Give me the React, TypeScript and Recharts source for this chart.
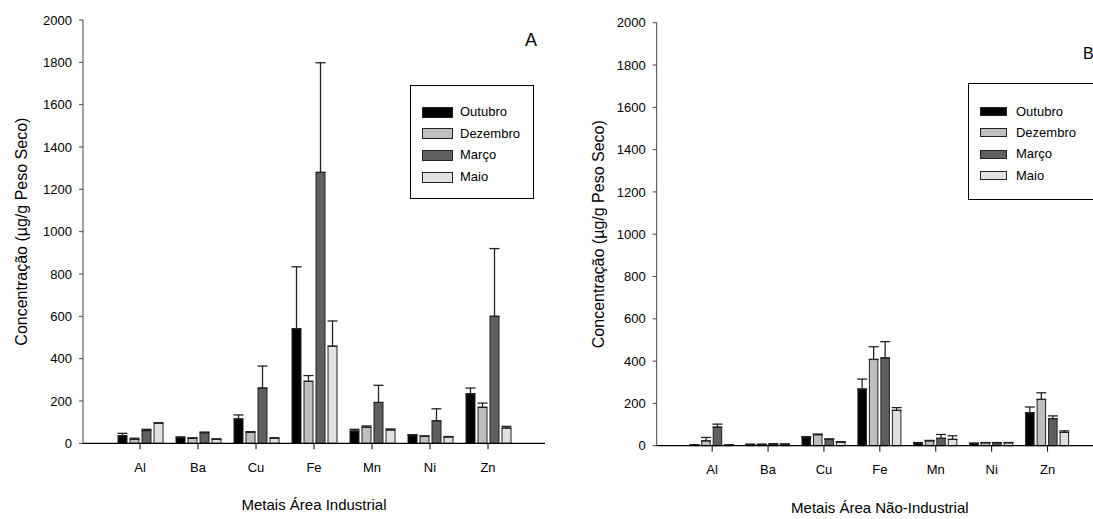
import React from 'react';
import { BarChart, Bar, XAxis, YAxis, ErrorBar, Legend } from 'recharts';

const metals = ['Al', 'Ba', 'Cu', 'Fe', 'Mn', 'Ni', 'Zn'];
const months = ['Outubro', 'Dezembro', 'Março', 'Maio'];
const monthColors = ['#000000', '#bfbfbf', '#5f5f5f', '#e1e1e1'];
const yTicks = [0, 200, 400, 600, 800, 1000, 1200, 1400, 1600, 1800, 2000];

// Área industrial (A)
const indOutubro = [36, 28, 115, 541, 58, 39, 234];
const indDezembro = [19, 24, 52, 293, 76, 33, 170];
const indMarco = [60, 50, 261, 1280, 193, 106, 600];
const indMaio = [95, 19, 24, 459, 63, 30, 72];
const indOutubroErr = [11, 2, 19, 293, 8, 2, 27];
const indDezembroErr = [5, 2, 3, 27, 6, 2, 20];
const indMarcoErr = [6, 3, 104, 518, 81, 57, 320];
const indMaioErr = [2, 2, 2, 119, 5, 2, 8];

// Área não-industrial (B)
const nindOutubro = [4, 6, 39, 268, 14, 11, 156];
const nindDezembro = [23, 6, 52, 408, 23, 14, 219];
const nindMarco = [88, 8, 30, 415, 35, 14, 128];
const nindMaio = [3, 7, 17, 167, 30, 14, 63];
const nindOutubroErr = [1, 1, 4, 47, 1, 1, 27];
const nindDezembroErr = [16, 1, 3, 60, 2, 1, 31];
const nindMarcoErr = [14, 1, 2, 77, 18, 1, 13];
const nindMaioErr = [1, 1, 2, 13, 17, 1, 7];

const FONT = "'Liberation Sans', Arial, Helvetica, sans-serif";
const NARROW = "'Liberation Sans Narrow', 'Arial Narrow', 'Liberation Sans', Arial, sans-serif";

const buildRows = (values: number[][], errs: number[][]) =>
  metals.map((metal, i) => {
    const row: any = { metal };
    values.forEach((v, s) => {
      row['s' + s] = v[i];
      row['e' + s] = [0, errs[s][i]];
    });
    return row;
  });

const industrialRows = buildRows(
  [indOutubro, indDezembro, indMarco, indMaio],
  [indOutubroErr, indDezembroErr, indMarcoErr, indMaioErr]
);
const nonIndustrialRows = buildRows(
  [nindOutubro, nindDezembro, nindMarco, nindMaio],
  [nindOutubroErr, nindDezembroErr, nindMarcoErr, nindMaioErr]
);

interface LegendLayout {
  left: number;
  top: number;
  width: number;
  height: number;
  swatchLeft: number;
  swatchW: number;
  swatchH: number;
  textLeft: number;
  firstRow: number;
  rowGap: number;
}

const LegendBox = ({ l }: { l: LegendLayout }) => (
  <div
    style={{
      position: 'relative',
      width: l.width,
      height: l.height,
      border: '1px solid #000',
      boxSizing: 'border-box',
      background: '#fff',
      fontFamily: NARROW,
      fontSize: 13,
      color: '#000'
    }}
  >
    {months.map((m, i) => (
      <React.Fragment key={m}>
        <div
          style={{
            position: 'absolute',
            left: l.swatchLeft,
            top: l.firstRow + i * l.rowGap - l.swatchH / 2,
            width: l.swatchW,
            height: l.swatchH,
            background: monthColors[i],
            border: '1px solid #222',
            boxSizing: 'border-box'
          }}
        />
        <div
          style={{
            position: 'absolute',
            left: l.textLeft,
            top: l.firstRow + i * l.rowGap - 9,
            lineHeight: '18px',
            whiteSpace: 'nowrap'
          }}
        >
          {m}
        </div>
      </React.Fragment>
    ))}
  </div>
);

interface PanelProps {
  left: number;
  width: number;
  marginTop: number;
  marginLeft: number;
  marginRight: number;
  marginBottom: number;
  yAxisWidth: number;
  xAxisHeight: number;
  xPad: number;
  barSize: number;
  barGap: number;
  rows: any[];
  xTitle: string;
  titleOffset: number;
  yLabelOffset: number;
  letter: string;
  letterStyle: React.CSSProperties;
  legend: LegendLayout;
}

const Panel = (p: PanelProps) => (
  <div style={{ position: 'absolute', left: p.left, top: 0, width: p.width, height: 519 }}>
    <BarChart
      width={p.width}
      height={519}
      data={p.rows}
      barSize={p.barSize}
      barGap={p.barGap}
      margin={{ top: p.marginTop, right: p.marginRight, left: p.marginLeft, bottom: p.marginBottom }}
    >
      <XAxis
        dataKey="metal"
        height={p.xAxisHeight}
        padding={{ left: p.xPad, right: p.xPad }}
        tickSize={6}
        tickMargin={13}
        axisLine={{ stroke: '#000', strokeWidth: 1.2 }}
        tickLine={{ stroke: '#000' }}
        tick={{ fill: '#000', fontSize: 13, fontFamily: NARROW }}
        label={{
          value: p.xTitle,
          position: 'insideBottom',
          offset: p.titleOffset,
          style: { fill: '#000', fontSize: 15, fontFamily: FONT }
        }}
      />
      <XAxis
        xAxisId="top"
        dataKey="metal"
        orientation="top"
        height={0}
        tick={false}
        tickLine={false}
        axisLine={{ stroke: '#000' }}
      />
      <YAxis
        type="number"
        domain={[0, 2000]}
        ticks={yTicks}
        interval={0}
        width={p.yAxisWidth}
        tickSize={4}
        tickMargin={7}
        axisLine={{ stroke: '#444' }}
        tickLine={{ stroke: '#444' }}
        tick={{ fill: '#000', fontSize: 13, fontFamily: NARROW }}
        label={{
          value: 'Concentração (µg/g Peso Seco)',
          angle: -90,
          position: 'insideLeft',
          offset: p.yLabelOffset,
          style: { fill: '#000', fontSize: 16, fontFamily: FONT, textAnchor: 'middle' }
        }}
      />
      <YAxis
        yAxisId="right"
        orientation="right"
        type="number"
        domain={[0, 2000]}
        width={0}
        tick={false}
        tickLine={false}
        axisLine={{ stroke: '#000' }}
      />
      <Legend
        layout="vertical"
        align="center"
        verticalAlign="middle"
        content={() => <LegendBox l={p.legend} />}
        wrapperStyle={{
          position: 'absolute',
          left: p.legend.left,
          top: p.legend.top,
          width: p.legend.width,
          height: p.legend.height
        }}
      />
      {months.map((m, i) => (
        <Bar
          key={m}
          dataKey={'s' + i}
          name={m}
          fill={monthColors[i]}
          stroke="#222"
          strokeWidth={1}
          isAnimationActive={false}
        >
          <ErrorBar dataKey={'e' + i} width={5} stroke="#222" strokeWidth={1.3} direction="y" />
        </Bar>
      ))}
    </BarChart>
    <div style={{ position: 'absolute', fontFamily: NARROW, color: '#000', ...p.letterStyle }}>{p.letter}</div>
  </div>
);

export default function App() {
  return (
    <div
      style={{
        position: 'absolute',
        left: 0,
        top: 0,
        width: 1093,
        height: 519,
        overflow: 'hidden',
        background: '#fff'
      }}
    >
      <Panel
        left={0}
        width={560}
        marginTop={20}
        marginLeft={11}
        marginRight={15}
        marginBottom={5.7}
        yAxisWidth={72}
        xAxisHeight={70}
        xPad={28}
        barSize={9}
        barGap={3}
        rows={industrialRows}
        xTitle="Metais Área Industrial"
        titleOffset={3.3}
        yLabelOffset={10}
        letter="A"
        letterStyle={{ left: 525, top: 30, fontSize: 18 }}
        legend={{
          left: 410,
          top: 85,
          width: 124,
          height: 114,
          swatchLeft: 10.7,
          swatchW: 31,
          swatchH: 11,
          textLeft: 49,
          firstRow: 26,
          rowGap: 21.7
        }}
      />
      <Panel
        left={576}
        width={537}
        marginTop={22.7}
        marginLeft={11}
        marginRight={10}
        marginBottom={3.3}
        yAxisWidth={69.7}
        xAxisHeight={70}
        xPad={27.5}
        barSize={8.5}
        barGap={3}
        rows={nonIndustrialRows}
        xTitle="Metais Área Não-Industrial"
        titleOffset={3.2}
        yLabelOffset={11}
        letter="B"
        letterStyle={{ left: 507, top: 45, fontSize: 16 }}
        legend={{
          left: 392.3,
          top: 83.3,
          width: 140,
          height: 117,
          swatchLeft: 10.7,
          swatchW: 27,
          swatchH: 9,
          textLeft: 46.7,
          firstRow: 27.4,
          rowGap: 21.3
        }}
      />
    </div>
  );
}
